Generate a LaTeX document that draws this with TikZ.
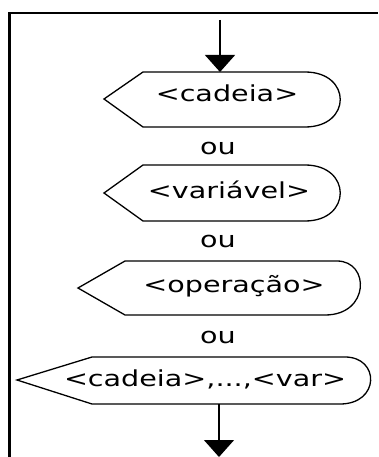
\documentclass[tikz,border=0pt]{standalone}
\usepackage{fontspec}
\setmainfont{DejaVu Sans}[FakeStretch=1.3]
\usetikzlibrary{arrows.meta}

\begin{document}
\begin{tikzpicture}[x=1pt,y=-1pt,
  outline/.style={line width=1.3pt},
  txt/.style={font=\fontsize{22}{26}\selectfont, inner sep=0pt, anchor=base},
  flow/.style={line width=1.4pt,-{Triangle[width=30pt,length=17pt]}}]
\useasboundingbox (0,0) rectangle (378,457);

% frame
\draw[line width=2.5pt] (9.5,457) -- (9.5,13) -- (378,13);

% output symbols
\draw[outline] (104,99) -- (143,72) -- (305,72)
      .. controls (352,72) and (352,127) .. (305,127) -- (143,127) -- cycle;
\draw[outline] (104,193) -- (143,165) -- (305,165)
      .. controls (352,165) and (352,221) .. (305,221) -- (143,221) -- cycle;
\draw[outline] (78,288) -- (125,261) -- (337,261)
      .. controls (370,261) and (370,315) .. (325,315) -- (125,315) -- cycle;
\draw[outline] (17,380) -- (92,357) -- (345,357)
      .. controls (380,357) and (380,404) .. (340,404) -- (92,404) -- cycle;

\node[txt] (cadeia)   at (227,102) {<cadeia>};
\node[txt] (ou1)      at (218,155) {ou};
\node[txt] (variavel) at (229,198) {<variável>};
\node[txt] (ou2)      at (218,247) {ou};
\node[txt] (operacao) at (234,292) {<operação>};
\node[txt] (ou3)      at (218,343) {ou};
\node[txt] (lista)    at (205,386) {<cadeia>,...,<var>};

% flow in and out
\coordinate (start)  at (220,20);
\coordinate (s1top)  at (220,72);
\coordinate (s4bot)  at (219,404);
\coordinate (finish) at (219,457);

\draw[flow] (start) -- (s1top);
\draw[flow] (s4bot) -- (finish);
\end{tikzpicture}
\end{document}
